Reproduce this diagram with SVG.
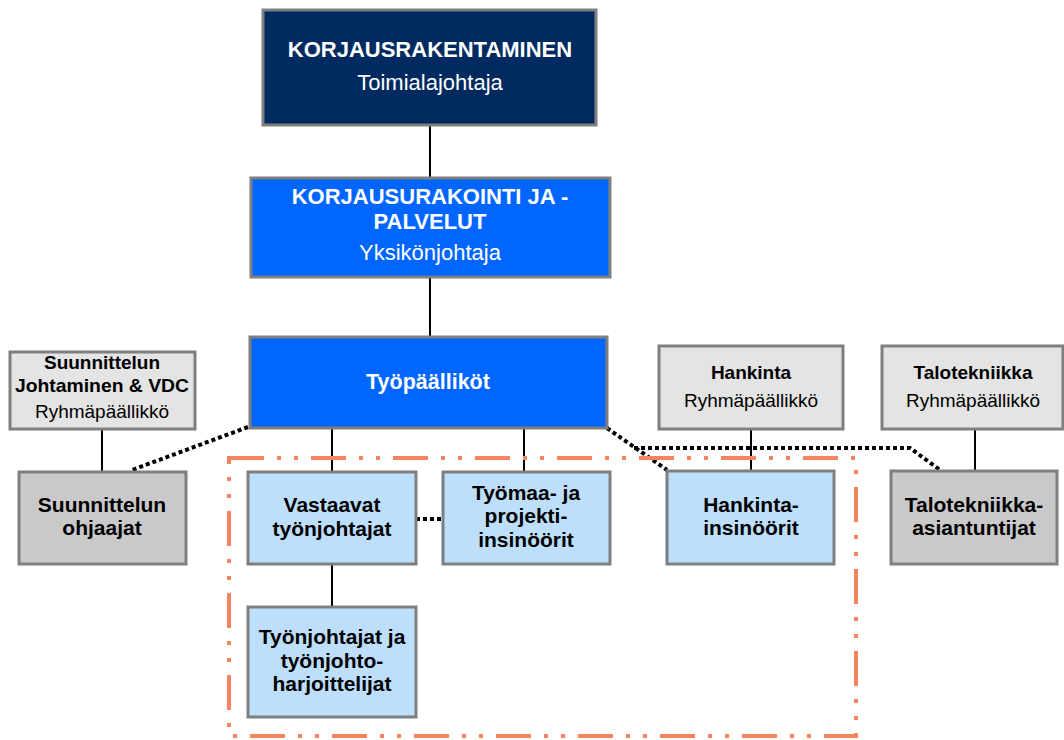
<svg xmlns="http://www.w3.org/2000/svg" width="1064" height="740" viewBox="0 0 1064 740">
<style>
.box{stroke:#7F7F7F;stroke-width:3}
.navy{fill:#002A60}
.blue{fill:#0066FF}
.lg{fill:#E4E4E4}
.mg{fill:#C9C9C9}
.lb{fill:#BDDFFB}
text{font-family:"Liberation Sans",Arial,sans-serif;text-anchor:middle}
.b{font-weight:bold}
.w{fill:#FFFFFF}
.k{fill:#000000}
.solid{stroke:#000;stroke-width:2;fill:none}
.dot{stroke:#000;stroke-width:4;stroke-dasharray:4 3;fill:none}
.frame{stroke:#F7845E;stroke-width:4;stroke-dasharray:35 13 4 13 4 13;fill:none}
</style>
<rect width="1064" height="740" fill="#FFFFFF"/>
<g id="connectors">
<line class="solid" x1="430" y1="125" x2="430" y2="178"/>
<line class="solid" x1="430" y1="277" x2="430" y2="337"/>
<line class="solid" x1="332" y1="428" x2="332" y2="472"/>
<line class="solid" x1="524" y1="428" x2="524" y2="472"/>
<line class="solid" x1="332" y1="564" x2="332" y2="607"/>
<line class="solid" x1="102" y1="429" x2="102" y2="472"/>
<line class="solid" x1="751" y1="429" x2="751" y2="471"/>
<line class="solid" x1="975" y1="429" x2="975" y2="471"/>
<line class="dot" x1="248" y1="427" x2="132" y2="470"/>
<line class="dot" x1="416" y1="519" x2="443" y2="519"/>
<line class="dot" x1="607" y1="428" x2="667" y2="470"/>
<polyline class="dot" points="634,448 910,448 940,470"/>
</g>
<rect id="frame" class="frame" x="229" y="458" width="627" height="278"/>
<g id="n-korjausrakentaminen">
<rect class="box navy" x="263" y="10" width="333" height="115"/>
<text class="b w" x="430" y="57" font-size="22">KORJAUSRAKENTAMINEN</text>
<text class="w" x="430" y="90" font-size="22">Toimialajohtaja</text>
</g>
<g id="n-korjausurakointi">
<rect class="box blue" x="251" y="178" width="359" height="99"/>
<text class="b w" x="430" y="204" font-size="22">KORJAUSURAKOINTI JA -</text>
<text class="b w" x="430" y="229" font-size="22">PALVELUT</text>
<text class="w" x="430" y="260" font-size="22">Yksikönjohtaja</text>
</g>
<g id="n-tyopaallikot">
<rect class="box blue" x="250" y="337" width="357" height="91"/>
<text class="b w" x="428" y="389" font-size="21.5">Työpäälliköt</text>
</g>
<g id="n-suunnittelun-johtaminen">
<rect class="box lg" x="10" y="352" width="185" height="77"/>
<text class="b k" x="102" y="369" font-size="19">Suunnittelun</text>
<text class="b k" x="102" y="392" font-size="19" textLength="174" lengthAdjust="spacingAndGlyphs">Johtaminen &amp; VDC</text>
<text class="k" x="102" y="418" font-size="19">Ryhmäpäällikkö</text>
</g>
<g id="n-suunnittelun-ohjaajat">
<rect class="box mg" x="19" y="472" width="167" height="92"/>
<text class="b k" x="102" y="512" font-size="21">Suunnittelun</text>
<text class="b k" x="102" y="535" font-size="21">ohjaajat</text>
</g>
<g id="n-hankinta">
<rect class="box lg" x="659" y="346" width="184" height="83"/>
<text class="b k" x="751" y="379" font-size="19">Hankinta</text>
<text class="k" x="751" y="407" font-size="19">Ryhmäpäällikkö</text>
</g>
<g id="n-talotekniikka">
<rect class="box lg" x="882" y="346" width="181" height="83"/>
<text class="b k" x="973" y="379" font-size="19">Talotekniikka</text>
<text class="k" x="973" y="407" font-size="19">Ryhmäpäällikkö</text>
</g>
<g id="n-vastaavat">
<rect class="box lb" x="248" y="472" width="168" height="92"/>
<text class="b k" x="332" y="512" font-size="21">Vastaavat</text>
<text class="b k" x="332" y="536" font-size="21">työnjohtajat</text>
</g>
<g id="n-tyomaa">
<rect class="box lb" x="443" y="472" width="167" height="92"/>
<text class="b k" x="526" y="500" font-size="21">Työmaa- ja</text>
<text class="b k" x="526" y="523" font-size="21">projekti-</text>
<text class="b k" x="526" y="547" font-size="21">insinöörit</text>
</g>
<g id="n-hankinta-insinoorit">
<rect class="box lb" x="667" y="471" width="167" height="93"/>
<text class="b k" x="751" y="512" font-size="21">Hankinta-</text>
<text class="b k" x="751" y="535" font-size="21">insinöörit</text>
</g>
<g id="n-talotekniikka-asiantuntijat">
<rect class="box mg" x="891" y="471" width="166" height="93"/>
<text class="b k" x="974" y="512" font-size="21">Talotekniikka-</text>
<text class="b k" x="974" y="535" font-size="21">asiantuntijat</text>
</g>
<g id="n-tyonjohtajat">
<rect class="box lb" x="248" y="607" width="168" height="110"/>
<text class="b k" x="332" y="644" font-size="21">Työnjohtajat ja</text>
<text class="b k" x="332" y="668" font-size="21">työnjohto-</text>
<text class="b k" x="332" y="691" font-size="21">harjoittelijat</text>
</g>
</svg>
